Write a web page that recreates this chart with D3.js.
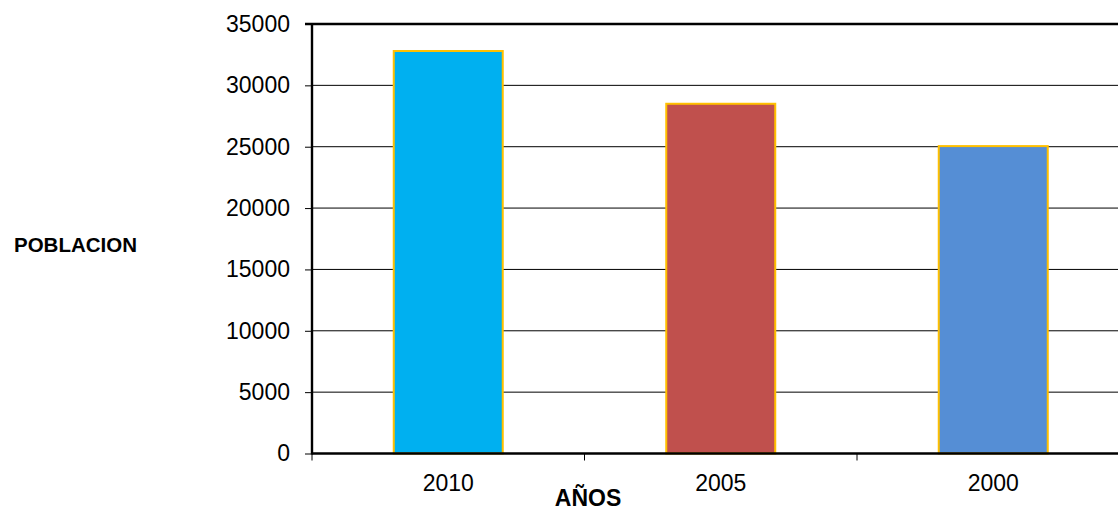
<!DOCTYPE html>
<html>
<head>
<meta charset="utf-8">
<script src="https://cdn.jsdelivr.net/npm/d3@7"></script>
<style>
  html, body { margin: 0; padding: 0; background: #fff; }
  svg { display: block; }
  text { font-family: "Liberation Sans", Arial, sans-serif; fill: #000; }
</style>
</head>
<body>
<svg id="chart" width="1118" height="510"></svg>
<script>
const categories = ["2010", "2005", "2000"];
const populationValues = [32800, 28500, 25050];
const barColors = ["#00B0F0", "#C0504D", "#558ED5"];
const yTickValues = [0, 5000, 10000, 15000, 20000, 25000, 30000, 35000];
const yAxisTitle = "POBLACION";
const xAxisTitle = "AÑOS";

(function () {
const svg = d3.select("#chart");
const plotLeft = 312, plotTop = 24, plotBottom = 453.5, bandW = 272.5;
const plotRight = plotLeft + bandW * categories.length;

const x = d3.scaleBand().domain(categories).range([plotLeft, plotRight]).padding(0);
const y = d3.scaleLinear().domain([0, 35000]).range([plotBottom, plotTop]);

// gridlines
svg.append("g").selectAll("line")
  .data(yTickValues.filter(v => v > 0 && v < 35000))
  .join("line")
  .attr("x1", plotLeft).attr("x2", plotRight)
  .attr("y1", d => y(d)).attr("y2", d => y(d))
  .attr("stroke", "#000").attr("stroke-width", 1);

// top border
svg.append("line")
  .attr("x1", plotLeft - 7).attr("x2", plotRight)
  .attr("y1", y(35000)).attr("y2", y(35000))
  .attr("stroke", "#000").attr("stroke-width", 2.4);

// bars
const barW = x.bandwidth() * 0.4;
svg.append("g").selectAll("rect")
  .data(categories)
  .join("rect")
  .attr("x", d => x(d) + (x.bandwidth() - barW) / 2)
  .attr("y", (d, i) => y(populationValues[i]))
  .attr("width", barW)
  .attr("height", (d, i) => y(0) - y(populationValues[i]))
  .attr("fill", (d, i) => barColors[i])
  .attr("stroke", "#FFC000")
  .attr("stroke-width", 2);

// y axis
const yAxis = d3.axisLeft(y).tickValues(yTickValues).tickSize(7).tickPadding(15).tickFormat(d3.format("d"));
const gy = svg.append("g").attr("transform", `translate(${plotLeft},0)`).call(yAxis);
gy.select(".domain").remove();
gy.selectAll(".tick line").attr("stroke", "#000").attr("stroke-width", 1);
gy.selectAll(".tick text").attr("font-size", 23).attr("font-family", "Liberation Sans, Arial, sans-serif").attr("fill", "#000");
svg.append("line")
  .attr("x1", plotLeft).attr("x2", plotLeft)
  .attr("y1", plotTop - 1).attr("y2", plotBottom + 1)
  .attr("stroke", "#000").attr("stroke-width", 2.4);

// x axis
svg.append("line")
  .attr("x1", plotLeft).attr("x2", plotRight)
  .attr("y1", plotBottom).attr("y2", plotBottom)
  .attr("stroke", "#000").attr("stroke-width", 2.4);
const boundaries = categories.map(c => x(c)).concat([plotRight]);
svg.append("g").selectAll("line")
  .data(boundaries)
  .join("line")
  .attr("x1", d => d).attr("x2", d => d)
  .attr("y1", plotBottom).attr("y2", plotBottom + 7)
  .attr("stroke", "#000").attr("stroke-width", 1);
svg.append("g").selectAll("text")
  .data(categories)
  .join("text")
  .attr("x", d => x(d) + x.bandwidth() / 2)
  .attr("y", 491)
  .attr("text-anchor", "middle")
  .attr("font-size", 23)
  .text(d => d);

// titles
svg.append("text")
  .attr("x", 588).attr("y", 506)
  .attr("text-anchor", "middle")
  .attr("font-size", 23).attr("font-weight", "bold")
  .text(xAxisTitle);
svg.append("text")
  .attr("x", 14).attr("y", 252)
  .attr("font-size", 20.5).attr("font-weight", "bold")
  .text(yAxisTitle);
})();
</script>
</body>
</html>
